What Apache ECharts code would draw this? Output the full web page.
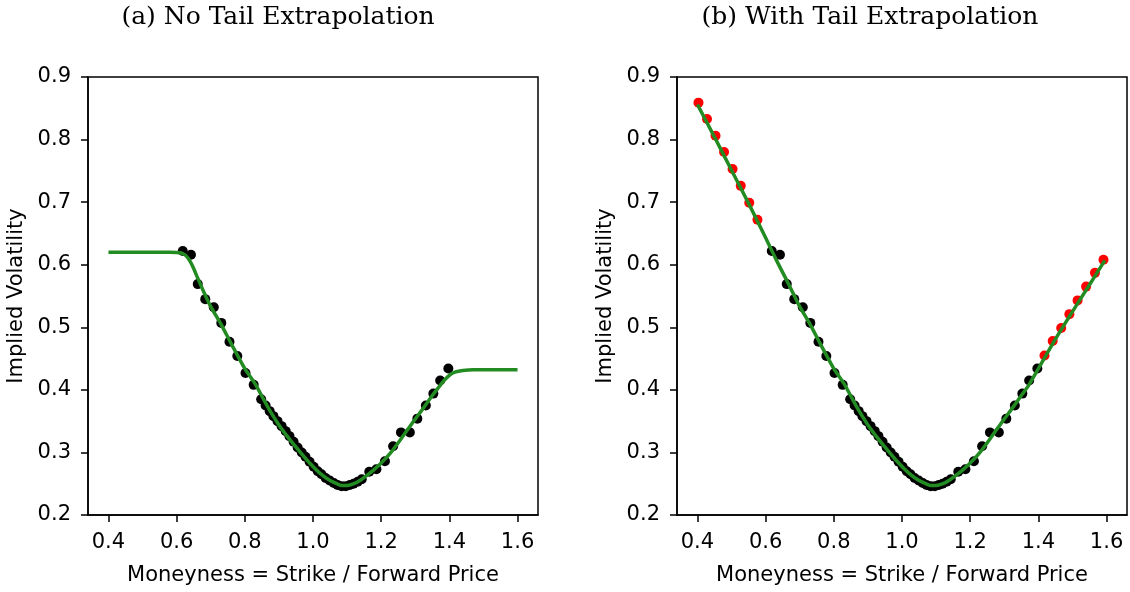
<!DOCTYPE html>
<html>
<head>
<meta charset="utf-8">
<script src="https://cdn.jsdelivr.net/npm/echarts@6/dist/echarts.min.js"></script>
<style>
  html, body { margin: 0; padding: 0; background: #fff; }
  #chart { width: 1130px; height: 592px; }
</style>
</head>
<body>
<div id="chart"></div>
<script>
// tick labels
const xTicks = [0.4, 0.6, 0.8, 1.0, 1.2, 1.4, 1.6];
const yTicks = [0.2, 0.3, 0.4, 0.5, 0.6, 0.7, 0.8, 0.9];

// market quotes (black)
const quoteX = [0.618, 0.642, 0.662, 0.684, 0.709, 0.731, 0.755, 0.778, 0.802, 0.826, 0.848,
  0.861, 0.873, 0.884, 0.896, 0.908, 0.920, 0.931, 0.943, 0.955, 0.967, 0.978, 0.990,
  1.002, 1.014, 1.025, 1.037, 1.049, 1.061, 1.072, 1.084, 1.096, 1.108, 1.119, 1.131, 1.143,
  1.165, 1.186, 1.211, 1.235, 1.258, 1.284, 1.306, 1.331, 1.353, 1.373, 1.397];
const quoteY = [0.622, 0.616, 0.569, 0.545, 0.532, 0.507, 0.477, 0.454, 0.427, 0.408, 0.385,
  0.375, 0.366, 0.358, 0.350, 0.342, 0.334, 0.326, 0.317, 0.308, 0.300, 0.293, 0.285,
  0.277, 0.270, 0.265, 0.259, 0.255, 0.251, 0.248, 0.246, 0.246, 0.248, 0.250, 0.253, 0.257,
  0.269, 0.273, 0.286, 0.310, 0.332, 0.332, 0.354, 0.375, 0.394, 0.415, 0.434];

// extrapolated tail points (red)
const tailX = [0.403, 0.428, 0.453, 0.478, 0.503, 0.527, 0.552, 0.576,
  1.418, 1.442, 1.467, 1.491, 1.515, 1.540, 1.566, 1.591];
const tailY = [0.859, 0.833, 0.806, 0.780, 0.753, 0.726, 0.699, 0.672,
  0.455, 0.478, 0.499, 0.521, 0.543, 0.565, 0.587, 0.608];

// fitted smile, no tail extrapolation
const fitAX = [0.40, 0.45, 0.50, 0.55, 0.58, 0.60, 0.61, 0.62, 0.63, 0.64, 0.65, 0.66, 0.68, 0.70,
  0.73, 0.76, 0.80, 0.83, 0.85, 0.87, 0.90, 0.93, 0.96, 0.99, 1.02, 1.05, 1.07, 1.085, 1.10,
  1.12, 1.14, 1.16, 1.18, 1.20, 1.23, 1.26, 1.29, 1.32, 1.35, 1.37, 1.38, 1.39, 1.40, 1.41,
  1.42, 1.44, 1.47, 1.50, 1.55, 1.60];
const fitAY = [0.620, 0.620, 0.620, 0.620, 0.620, 0.6195, 0.619, 0.617, 0.613, 0.605, 0.594, 0.581, 0.556, 0.533,
  0.505, 0.474, 0.434, 0.410, 0.390, 0.370, 0.344, 0.322, 0.302, 0.283, 0.267, 0.255, 0.250, 0.247, 0.247,
  0.250, 0.256, 0.264, 0.273, 0.283, 0.301, 0.323, 0.346, 0.368, 0.391, 0.405, 0.412, 0.418, 0.423, 0.427,
  0.429, 0.431, 0.432, 0.432, 0.432, 0.432];

// fitted smile, with tail extrapolation
const fitBX = [0.40, 0.45, 0.50, 0.55, 0.60, 0.63, 0.66, 0.68, 0.70,
  0.73, 0.76, 0.80, 0.83, 0.85, 0.87, 0.90, 0.93, 0.96, 0.99, 1.02, 1.05, 1.07, 1.085, 1.10,
  1.12, 1.14, 1.16, 1.18, 1.20, 1.23, 1.26, 1.29, 1.32, 1.35, 1.37, 1.40, 1.45, 1.50, 1.55, 1.595];
const fitBY = [0.856, 0.804, 0.751, 0.698, 0.643, 0.609, 0.577, 0.555, 0.533,
  0.505, 0.474, 0.434, 0.410, 0.390, 0.370, 0.344, 0.322, 0.302, 0.283, 0.267, 0.255, 0.250, 0.247, 0.247,
  0.250, 0.256, 0.264, 0.273, 0.283, 0.301, 0.323, 0.346, 0.368, 0.391, 0.406, 0.434, 0.481, 0.525, 0.568, 0.607];

const zip = (xs, ys) => xs.map((x, i) => [x, ys[i]]);

const sans = 'DejaVu Sans';
const serif = 'DejaVu Serif';
const lbl = { color: '#000', fontFamily: sans, fontSize: 21 };

const xAxisFor = gi => ({
    type: 'value', gridIndex: gi, min: 0.34, max: 1.66,
    name: 'Moneyness = Strike / Forward Price', nameLocation: 'middle', nameGap: 50,
    nameTextStyle: lbl,
    axisLine: { onZero: false, lineStyle: { color: '#000', width: 1.5 } },
    axisTick: { length: 7, lineStyle: { color: '#000', width: 1.5 }, customValues: xTicks },
    axisLabel: Object.assign({ margin: 17, customValues: xTicks, formatter: v => v.toFixed(1) }, lbl),
    splitLine: { show: false }
});

const yAxisFor = gi => ({
    type: 'value', gridIndex: gi, min: 0.2, max: 0.9,
    name: 'Implied Volatility', nameLocation: 'middle', nameGap: 61,
    nameTextStyle: lbl,
    axisLine: { onZero: false, lineStyle: { color: '#000', width: 1.5 } },
    axisTick: { length: 7, lineStyle: { color: '#000', width: 1.5 }, customValues: yTicks },
    axisLabel: Object.assign({ margin: 17, customValues: yTicks, formatter: v => v.toFixed(1) }, lbl),
    splitLine: { show: false }
});

const gridFor = left => ({
    left, top: 77, width: 450, height: 438, show: true,
    borderColor: '#000', borderWidth: 1.5, backgroundColor: 'transparent'
});

const titleStyle = { fontFamily: serif, fontSize: 25, fontWeight: 'normal', color: '#000' };

const chart = echarts.init(document.getElementById('chart'));
chart.setOption({
    animation: false,
    backgroundColor: '#fff',
    title: [
        { text: '(a) No Tail Extrapolation', left: 273, top: 0, textAlign: 'center', textStyle: titleStyle },
        { text: '(b) With Tail Extrapolation', left: 865, top: 0, textAlign: 'center', textStyle: titleStyle }
    ],
    grid: [gridFor(88), gridFor(677)],
    xAxis: [xAxisFor(0), xAxisFor(1)],
    yAxis: [yAxisFor(0), yAxisFor(1)],
    series: [
        { type: 'scatter', xAxisIndex: 0, yAxisIndex: 0, data: zip(quoteX, quoteY),
          symbolSize: 10, itemStyle: { color: '#000', opacity: 1 }, z: 2 },
        { type: 'line', xAxisIndex: 0, yAxisIndex: 0, data: zip(fitAX, fitAY),
          showSymbol: false, smooth: 0.2, lineStyle: { color: '#228b22', width: 3.5 }, z: 3 },
        { type: 'scatter', xAxisIndex: 1, yAxisIndex: 1, data: zip(quoteX, quoteY),
          symbolSize: 10, itemStyle: { color: '#000', opacity: 1 }, z: 2 },
        { type: 'scatter', xAxisIndex: 1, yAxisIndex: 1, data: zip(tailX, tailY),
          symbolSize: 10, itemStyle: { color: '#ff0000', opacity: 1 }, z: 2 },
        { type: 'line', xAxisIndex: 1, yAxisIndex: 1, data: zip(fitBX, fitBY),
          showSymbol: false, smooth: 0.2, lineStyle: { color: '#228b22', width: 3.5 }, z: 3 }
    ]
});
</script>
</body>
</html>
